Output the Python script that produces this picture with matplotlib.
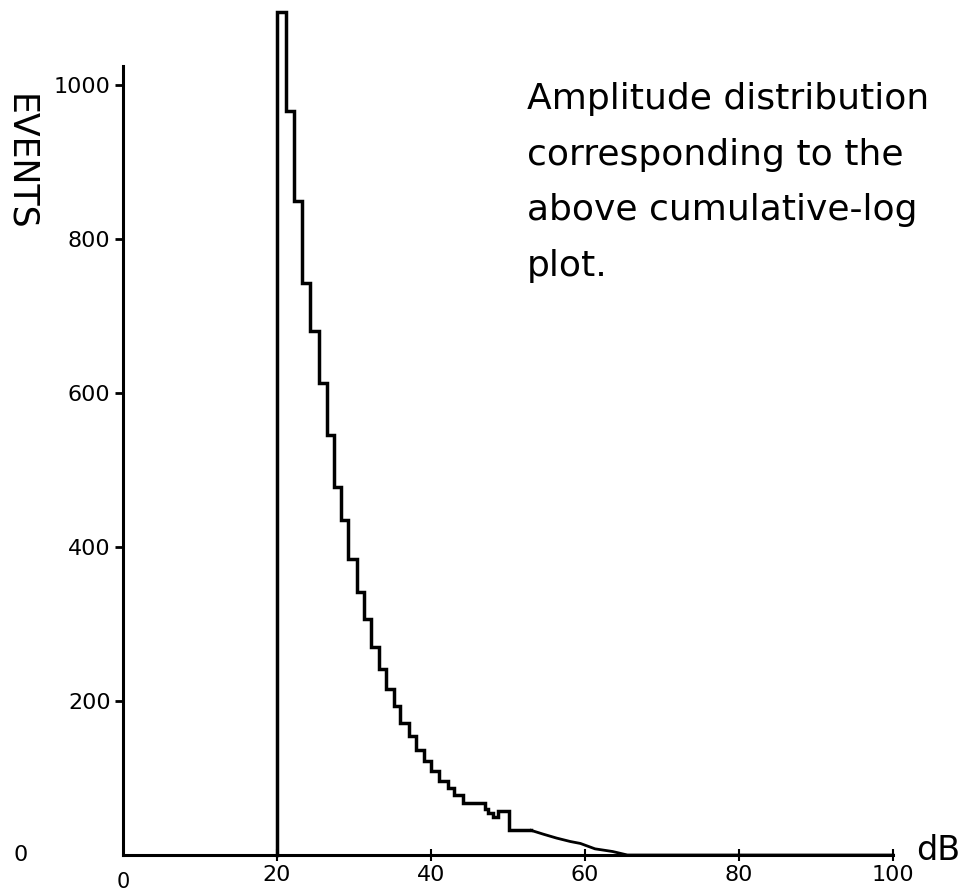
import matplotlib
matplotlib.use("Agg")
import matplotlib.pyplot as plt

# --- data ---
step_edges_db = [20.0, 20.0, 21.2, 22.2, 23.2, 24.3, 25.5, 26.5, 27.4, 28.3, 29.2,
                 30.4, 31.3, 32.2, 33.2, 34.1, 35.2, 36.0, 37.1, 38.1, 39.1,
                 40.0, 41.1, 42.2, 43.0, 44.1, 47.0, 47.4, 48.0, 48.7, 50.1, 53.0]
step_events = [0, 1095, 966, 849, 743, 681, 613, 545, 478, 435, 384,
               342, 306, 270, 242, 215, 194, 172, 155, 137, 122,
               109, 96, 87, 78, 67, 60, 55, 49, 57, 32, 32]
tail_db = [53.0, 54.6, 56.3, 58.1, 59.4, 61.3, 63.6, 65.5, 100.0]
tail_events = [32, 27, 22, 17.5, 15, 8, 4.5, 0, 0]

x_ticks = [20, 40, 60, 80, 100]
x_ticklabels = ["20", "40", "60", "80", "100"]
y_ticks = [200, 400, 600, 800, 1000]
y_ticklabels = ["200", "400", "600", "800", "1000"]

note = "Amplitude distribution\ncorresponding to the\nabove cumulative-log\nplot."

# --- figure ---
W, H = 969, 893
fig = plt.figure(figsize=(W / 100, H / 100), dpi=100)
fig.patch.set_facecolor("white")
x0, y0, x1, ytop = 123, 855, 893, 66
px_per_event = 0.77
ax = fig.add_axes([x0 / W, 1 - y0 / H, (x1 - x0) / W, (y0 - ytop) / H])
ax.set_xlim(0, 100)
ax.set_ylim(0, (y0 - ytop) / px_per_event)

lw = 2.5
ax.step(step_edges_db, step_events, where="post", color="black", lw=lw,
        clip_on=False, solid_joinstyle="miter")
ax.plot(tail_db, tail_events, color="black", lw=2.0, clip_on=False)

for s in ["top", "right"]:
    ax.spines[s].set_visible(False)
for s in ["left", "bottom"]:
    ax.spines[s].set_linewidth(2.2)
    ax.spines[s].set_color("black")

ax.set_xticks(x_ticks)
ax.set_xticklabels(x_ticklabels, fontsize=16)
ax.set_yticks(y_ticks)
ax.set_yticklabels(y_ticklabels, fontsize=16)
ax.tick_params(axis="y", direction="out", length=6, width=2, pad=3)
ax.tick_params(axis="x", direction="inout", length=8, width=1.5, pad=3)

# separate zero labels
ax.annotate("0", xy=(-0.133, 0), xycoords=("axes fraction", "data"),
            ha="center", va="center", fontsize=16)
ax.annotate("0", xy=(0, -0.034), xycoords=("data", "axes fraction"),
            ha="center", va="center", fontsize=15)
ax.annotate("dB", xy=(1.03, 6), xycoords=("axes fraction", "data"),
            ha="left", va="center", fontsize=24)

fig.text(20 / W, 1 - 162 / H, "EVENTS", rotation=-90, ha="center", va="center",
         fontsize=25)
fig.text(527 / W, 1 - 82 / H, note, ha="left", va="top", fontsize=26,
         linespacing=1.8)

fig.savefig("out.png", dpi=100, facecolor="white")
